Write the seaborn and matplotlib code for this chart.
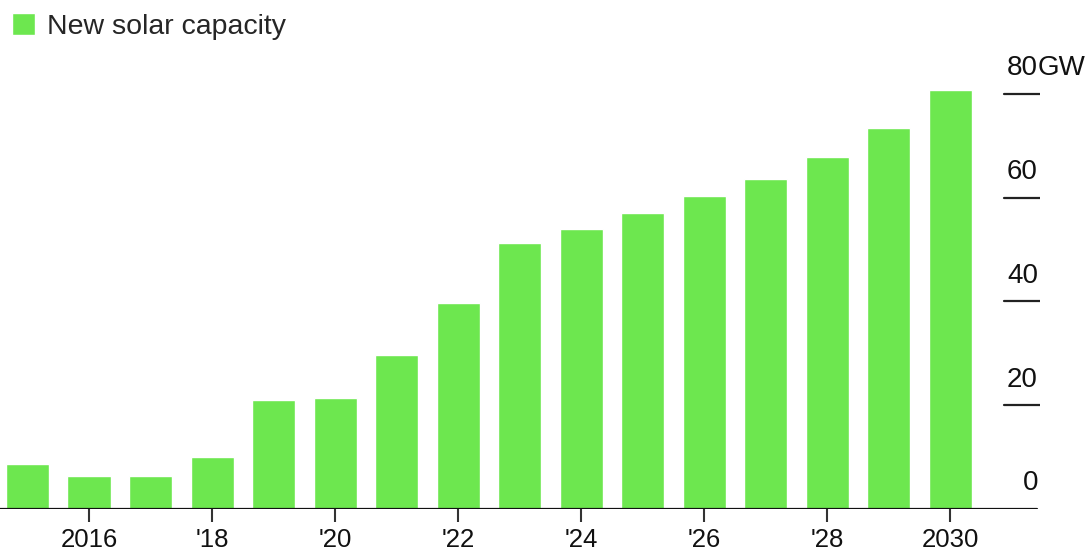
import pandas as pd
import seaborn as sns
import matplotlib.pyplot as plt

# new solar capacity per year (GW)
years = list(range(2015, 2031))
capacity = [8.7, 6.4, 6.3, 10.0, 21.0, 21.4, 29.7, 39.7, 51.3, 54.0,
            57.0, 60.3, 63.6, 67.9, 73.4, 80.7]
tick_years = [2016, 2018, 2020, 2022, 2024, 2026, 2028, 2030]
tick_labels = ["2016", "'18", "'20", "'22", "'24", "'26", "'28", "2030"]
y_ticks = [0, 20, 40, 60, 80]

green = "#6de74f"

sns.set_style("white")
plt.rcParams['font.family'] = ['Liberation Sans', 'DejaVu Sans']

df = pd.DataFrame({"year": years, "gw": capacity})

W, H = 1085, 553
fig = plt.figure(figsize=(W / 100, H / 100), dpi=100)
# axes from x=0 to 1040 px, y from 68 px to 509 px (from top)
ax = fig.add_axes([0, (H - 509) / H, 1040 / W, (509 - 68) / H])

sns.barplot(data=df, x="year", y="gw", color=green, width=0.7,
            saturation=1, ax=ax, label="New solar capacity")
if ax.get_legend() is not None:
    ax.get_legend().remove()

ax.set_xlim(-0.447, 16.46)
ax.set_ylim(0, 85)
for s in ax.spines.values():
    s.set_visible(False)
ax.set_xlabel("")
ax.set_ylabel("")

# x ticks at even years
pos = [years.index(y) for y in tick_years]
ax.set_xticks(pos)
ax.set_xticklabels(tick_labels, fontsize=18.5, color="#111111")
ax.tick_params(axis="x", length=9, width=1.5, color="#333333", pad=5, direction="out", bottom=True)
ax.set_yticks([])

# baseline
ax.axhline(0, xmin=0, xmax=0.997, color="#111111", lw=1.6, zorder=5)

# right-side value marks with labels sitting above them
for v in y_ticks:
    if v > 0:
        ax.axhline(v, xmin=0.965, xmax=1.0, color="#222222", lw=1.6)
    ax.text(0.998, v + 3.6, str(v), transform=ax.get_yaxis_transform(),
            ha="right", va="baseline", fontsize=20, color="#111111")
ax.text(0.998, y_ticks[-1] + 3.6, "GW", transform=ax.get_yaxis_transform(),
        ha="left", va="baseline", fontsize=20, color="#111111", clip_on=False)

fig.legend(handles=ax.patches[:1], labels=["New solar capacity"],
           loc="upper left", bbox_to_anchor=(9 / W, 1 - 10 / H), frameon=False,
           fontsize=20.5, handlelength=0.8, handleheight=0.8,
           handletextpad=0.45, borderaxespad=0, borderpad=0.1)

fig.savefig("out.png", dpi=100)
